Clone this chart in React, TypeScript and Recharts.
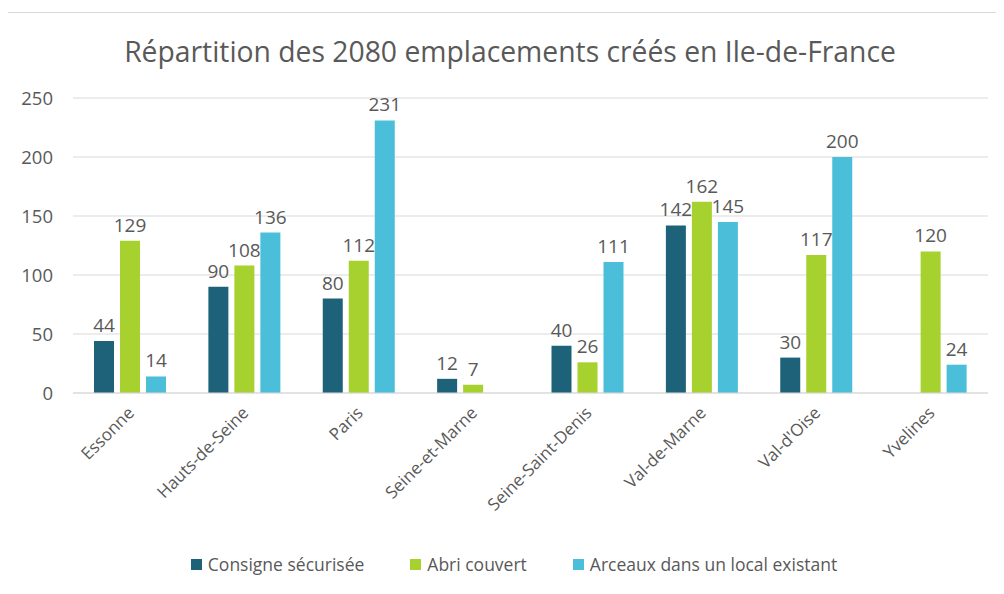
import { BarChart, Bar, XAxis, YAxis, CartesianGrid, Legend, LabelList } from "recharts";

const departements = [
  "Essonne",
  "Hauts-de-Seine",
  "Paris",
  "Seine-et-Marne",
  "Seine-Saint-Denis",
  "Val-de-Marne",
  "Val-d'Oise",
  "Yvelines",
];
const consigne = [44, 90, 80, 12, 40, 142, 30, null];
const abri = [129, 108, 112, 7, 26, 162, 117, 120];
const arceaux = [14, 136, 231, null, 111, 145, 200, 24];
const yTicks = [0, 50, 100, 150, 200, 250];

const SERIES = [
  { key: "consigne", name: "Consigne sécurisée", color: "#1D6278" },
  { key: "abri", name: "Abri couvert", color: "#A7D12E" },
  { key: "arceaux", name: "Arceaux dans un local existant", color: "#4BBFDA" },
];

const TEXT = "#595959";
const FONT = "'Open Sans', sans-serif";

const data = departements.map((d, i) => ({
  name: d,
  consigne: consigne[i],
  abri: abri[i],
  arceaux: arceaux[i],
}));

function CatTick({ x, y, payload }: any) {
  return (
    <text
      x={x + 5}
      y={y + 13}
      textAnchor="end"
      fill={TEXT}
      fontSize={17}
      fontFamily={FONT}
      transform={`rotate(-45 ${x + 5} ${y + 13})`}
    >
      {payload.value}
    </text>
  );
}

function LegendBox() {
  return (
    <div
      style={{
        display: "flex",
        justifyContent: "center",
        gap: 46,
        marginLeft: 32,
        fontFamily: FONT,
        fontSize: 17.5,
        color: TEXT,
      }}
    >
      {SERIES.map((s) => (
        <div key={s.key} style={{ display: "flex", alignItems: "center", gap: 6 }}>
          <span style={{ width: 11, height: 11, background: s.color, display: "inline-block" }} />
          <span>{s.name}</span>
        </div>
      ))}
    </div>
  );
}

export default function App() {
  return (
    <div
      style={{
        position: "relative",
        width: 996,
        height: 573,
        marginTop: 4,
        marginLeft: -1,
        borderTop: "1px solid #d9d9d9",
        borderLeft: "1px solid #d9d9d9",
        background: "#fff",
      }}
    >
      <div
        style={{
          position: "absolute",
          top: 19,
          left: 0,
          width: 1004,
          textAlign: "center",
          fontFamily: FONT,
          fontSize: 28.3,
          color: TEXT,
        }}
      >
        Répartition des 2080 emplacements créés en Ile-de-France
      </div>
      <BarChart
        width={996}
        height={573}
        data={data}
        margin={{ top: 85, right: 16, bottom: 10, left: 0 }}
        barGap={6}
        barSize={20}
      >
        <CartesianGrid vertical={false} stroke="#d9d9d9" />
        <XAxis
          dataKey="name"
          tick={<CatTick />}
          tickLine={false}
          axisLine={{ stroke: "#d9d9d9" }}
          height={159}
          interval={0}
        />
        <YAxis
          domain={[0, 250]}
          ticks={yTicks}
          width={65}
          tickLine={false}
          axisLine={false}
          tickMargin={14}
          tick={{ fill: TEXT, fontSize: 18.5, fontFamily: FONT }}
        />
        <Legend verticalAlign="bottom" content={<LegendBox />} />
        {SERIES.map((s) => (
          <Bar key={s.key} dataKey={s.key} name={s.name} fill={s.color} isAnimationActive={false}>
            <LabelList dataKey={s.key} position="top" offset={9} fill={TEXT} fontSize={19} fontFamily={FONT} />
          </Bar>
        ))}
      </BarChart>
    </div>
  );
}
